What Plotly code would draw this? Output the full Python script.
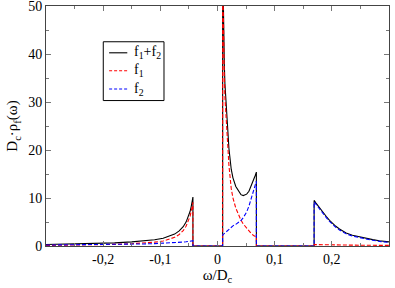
import plotly.graph_objects as go

# ---- data ----
omega_left = [-0.30, -0.27, -0.24, -0.21, -0.18, -0.15, -0.13, -0.11, -0.095, -0.085,
              -0.075, -0.067, -0.060, -0.055, -0.051, -0.048, -0.046, -0.0445, -0.043]
f1_left = [0.12, 0.15, 0.19, 0.25, 0.34, 0.48, 0.62, 0.80, 1.05, 1.35,
           1.8, 2.4, 3.2, 4.1, 5.1, 6.2, 7.2, 8.1, 9.1]
f2_left = [0.20, 0.22, 0.25, 0.28, 0.32, 0.38, 0.43, 0.50, 0.56, 0.62,
           0.68, 0.75, 0.82, 0.88, 0.93, 0.98, 1.02, 1.06, 1.10]
tot_left = [0.32, 0.37, 0.44, 0.53, 0.66, 0.86, 1.05, 1.30, 1.61, 1.97,
            2.48, 3.15, 4.02, 4.98, 6.03, 7.18, 8.22, 9.16, 10.2]

omega_mid = [0.009, 0.010, 0.011, 0.012, 0.013, 0.0145, 0.017, 0.020, 0.024, 0.027,
             0.032, 0.038, 0.041, 0.045, 0.051, 0.055, 0.059, 0.063, 0.066, 0.068]
f1_mid = [57.7, 44.6, 39.5, 35.0, 31.0, 27.5, 21.5, 16.8, 12.0, 10.0,
          7.9, 6.1, 5.4, 4.6, 3.7, 3.1, 2.6, 2.2, 2.0, 1.9]
f2_mid = [2.3, 2.4, 2.5, 2.6, 2.8, 3.0, 3.2, 3.5, 4.0, 4.2,
          4.5, 5.0, 5.3, 5.9, 7.1, 8.3, 9.9, 11.5, 12.7, 13.5]
tot_mid = [60.0, 47.0, 42.0, 37.6, 33.8, 30.5, 24.7, 20.3, 16.0, 14.2,
           12.4, 11.1, 10.7, 10.5, 10.8, 11.4, 12.5, 13.7, 14.7, 15.4]

omega_right = [0.169, 0.172, 0.175, 0.1785, 0.184, 0.190, 0.196, 0.2017, 0.207, 0.2134,
               0.219, 0.225, 0.236, 0.248, 0.260, 0.2716, 0.283, 0.295, 0.300]
f1_right = [0.30, 0.29, 0.28, 0.27, 0.26, 0.25, 0.24, 0.23, 0.22, 0.21,
            0.20, 0.19, 0.17, 0.16, 0.15, 0.14, 0.13, 0.12, 0.12]
f2_right = [9.20, 8.71, 8.22, 7.68, 6.84, 5.95, 5.11, 4.43, 3.88, 3.34,
            2.90, 2.53, 2.08, 1.73, 1.43, 1.19, 0.97, 0.80, 0.74]
tot_right = [9.5, 9.0, 8.5, 7.95, 7.1, 6.2, 5.35, 4.66, 4.1, 3.55,
             3.1, 2.72, 2.25, 1.89, 1.58, 1.33, 1.10, 0.92, 0.86]

series_names = ["f<sub>1</sub>+f<sub>2</sub>", "f<sub>1</sub>", "f<sub>2</sub>"]
series_colors = ["black", "red", "blue"]
series_dash = ["solid", "4px,2px", "4px,2px"]
x_tickvals = [-0.2, -0.1, 0, 0.1, 0.2]
x_ticktext = ["-0,2", "-0,1", "0", "0,1", "0,2"]
y_tickvals = [0, 10, 20, 30, 40, 50]


def assemble(vl, vm, vr):
    x = (omega_left + [omega_left[-1], omega_mid[0]] + omega_mid
         + [omega_mid[-1], omega_right[0]] + omega_right)
    y = vl + [0, 0] + vm + [0, 0] + vr
    return x, y


FONT = "Liberation Serif, Times New Roman, serif"
fig = go.Figure()
all_parts = [(tot_left, tot_mid, tot_right), (f1_left, f1_mid, f1_right),
             (f2_left, f2_mid, f2_right)]
for name, parts, color, dash in zip(series_names, all_parts, series_colors, series_dash):
    x, y = assemble(*parts)
    fig.add_trace(go.Scatter(x=x, y=y, mode="lines", name=name, showlegend=False,
                             line=dict(color=color, width=1.1, dash=dash)))

# ---- legend box drawn in paper coordinates (matches the reference's framed key) ----
leg_x0, leg_x1, leg_y0, leg_y1 = 0.167, 0.344, 0.606, 0.851
line_x0, line_x1, text_x = 0.184, 0.237, 0.252
row_y = [0.805, 0.730, 0.654]
fig.add_shape(type="rect", xref="paper", yref="paper", x0=leg_x0, x1=leg_x1,
              y0=leg_y0, y1=leg_y1, line=dict(color="black", width=1), fillcolor="white",
              layer="above")
for name, color, dash, ry in zip(series_names, series_colors, series_dash, row_y):
    fig.add_shape(type="line", xref="paper", yref="paper", x0=line_x0, x1=line_x1,
                  y0=ry, y1=ry, line=dict(color=color, width=1.1,
                                          dash="solid" if dash == "solid" else "3px,2px"),
                  layer="above")
    fig.add_annotation(x=text_x, y=ry, xref="paper", yref="paper", text=name,
                       showarrow=False, xanchor="left", yanchor="middle",
                       font=dict(family=FONT, size=14, color="black"))

axis_common = dict(showgrid=False, zeroline=False, showline=True, linecolor="#444",
                   linewidth=1, mirror="ticks", ticks="inside", ticklen=5,
                   tickcolor="#777", tickwidth=1, ticklabeloverflow="allow",
                   automargin=False,
                   tickfont=dict(family=FONT, size=14, color="black"))

fig.update_xaxes(range=[-0.3, 0.3], tickvals=x_tickvals, ticktext=x_ticktext,
                 minor=dict(dtick=0.05, ticks="inside", ticklen=3, tickcolor="#777"),
                 title=dict(text="ω/D<sub>c</sub>", font=dict(family=FONT, size=15, color="black"),
                            standoff=2),
                 **axis_common)
fig.update_yaxes(range=[0, 50], tickvals=y_tickvals,
                 minor=dict(dtick=5, ticks="inside", ticklen=3, tickcolor="#777"),
                 title=dict(text="D<sub>c</sub>·ρ<sub>f</sub>(ω)",
                            font=dict(family=FONT, size=15, color="black"), standoff=6),
                 **axis_common)

fig.update_layout(
    width=395, height=288,
    margin=dict(l=46, r=6, t=6, b=42, autoexpand=False),
    plot_bgcolor="white", paper_bgcolor="white",
    showlegend=False,
)

fig.write_html("out.html", config={"displayModeBar": False},
               post_script="document.body.style.margin='0';document.body.style.padding='0';")
